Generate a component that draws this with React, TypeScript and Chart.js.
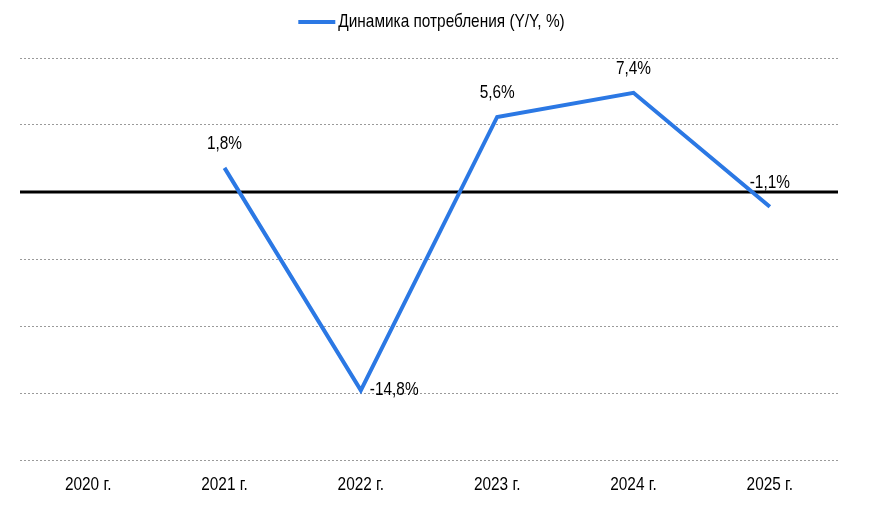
import React, { useEffect, useRef } from "react";
import { Chart, registerables } from "chart.js";

Chart.register(...registerables);

const categories = ["2020 г.", "2021 г.", "2022 г.", "2023 г.", "2024 г.", "2025 г."];
const values: (number | null)[] = [null, 1.8, -14.8, 5.6, 7.4, -1.1];
const labelText = ["", "1,8%", "-14,8%", "5,6%", "7,4%", "-1,1%"];
const labelPos = ["top", "top", "right", "top", "top", "top"];
const seriesName = "Динамика потребления (Y/Y, %)";

const FONT = "'Liberation Sans', Arial, sans-serif";
const FONT_SIZE = 19;
const NARROW = 0.81;
const BLUE = "#2b78e4";

function narrowText(ctx: CanvasRenderingContext2D, text: string, x: number, y: number, align: "left" | "center") {
  ctx.save();
  ctx.font = `${FONT_SIZE}px ${FONT}`;
  ctx.fillStyle = "#000";
  ctx.textBaseline = "middle";
  ctx.textAlign = "left";
  const w = ctx.measureText(text).width * NARROW;
  const left = align === "center" ? x - w / 2 : x;
  ctx.translate(left, y);
  ctx.scale(NARROW, 1);
  ctx.fillText(text, 0, 0);
  ctx.restore();
  return w;
}

export default function App() {
  const ref = useRef<HTMLCanvasElement>(null);
  useEffect(() => {
    document.body.style.margin = "0";
    const zeroLine = {
      id: "zeroLine",
      beforeDatasetsDraw(chart: any) {
        const { ctx, chartArea, scales } = chart;
        const y = scales.y.getPixelForValue(0);
        ctx.save();
        ctx.strokeStyle = "#000";
        ctx.lineWidth = 3;
        ctx.beginPath();
        ctx.moveTo(chartArea.left, y);
        ctx.lineTo(chartArea.right, y);
        ctx.stroke();
        ctx.restore();
      },
    };
    const texts = {
      id: "texts",
      afterDatasetsDraw(chart: any) {
        const { ctx, chartArea, scales } = chart;
        const meta = chart.getDatasetMeta(0);
        // value labels
        meta.data.forEach((pt: any, i: number) => {
          if (values[i] === null) return;
          if (labelPos[i] === "right") {
            narrowText(ctx, labelText[i], pt.x + 9, pt.y - 1, "left");
          } else {
            narrowText(ctx, labelText[i], pt.x, pt.y - 24, "center");
          }
        });
        // x-axis category labels
        categories.forEach((c, i) => {
          const x = scales.x.getPixelForValue(i);
          narrowText(ctx, c, x, chartArea.bottom + 25, "center");
        });
        // legend
        ctx.save();
        ctx.font = `${FONT_SIZE}px ${FONT}`;
        const tw = ctx.measureText(seriesName).width * NARROW;
        ctx.restore();
        const lineW = 37;
        const gap = 3;
        const total = lineW + gap + tw;
        const cx = (chartArea.left + chartArea.right) / 2 + 2.5;
        const x0 = cx - total / 2;
        const ly = 22;
        ctx.save();
        ctx.strokeStyle = BLUE;
        ctx.lineWidth = 4;
        ctx.beginPath();
        ctx.moveTo(x0, ly);
        ctx.lineTo(x0 + lineW, ly);
        ctx.stroke();
        ctx.restore();
        narrowText(ctx, seriesName, x0 + lineW + gap, ly, "left");
      },
    };
    const chart = new Chart(ref.current!, {
      type: "line",
      data: {
        labels: categories,
        datasets: [
          {
            label: seriesName,
            data: values,
            borderColor: BLUE,
            backgroundColor: BLUE,
            borderWidth: 4,
            pointRadius: 0,
            tension: 0,
            spanGaps: false,
          },
        ],
      },
      options: {
        animation: false,
        responsive: false,
        layout: { padding: { left: 20, right: 45, top: 58, bottom: 47 } },
        plugins: {
          legend: { display: false },
          tooltip: { enabled: false },
        },
        scales: {
          x: {
            offset: true,
            grid: { display: false, drawTicks: false },
            border: { display: false },
            ticks: { display: false },
          },
          y: {
            min: -20,
            max: 10,
            ticks: { display: false, stepSize: 5 },
            grid: {
              drawTicks: false,
              color: (c: any) => (c.tick && c.tick.value === 0 ? "rgba(0,0,0,0)" : "#9a9a9a"),
              lineWidth: 1,
            },
            border: { display: false, dash: [2, 2] },
          },
        },
      },
      plugins: [zeroLine, texts],
    });
    return () => chart.destroy();
  }, []);
  return (
    <div style={{ position: "absolute", left: 0, top: 0, width: 883, height: 507 }}>
      <canvas ref={ref} width={883} height={507} style={{ width: 883, height: 507 }} />
    </div>
  );
}
